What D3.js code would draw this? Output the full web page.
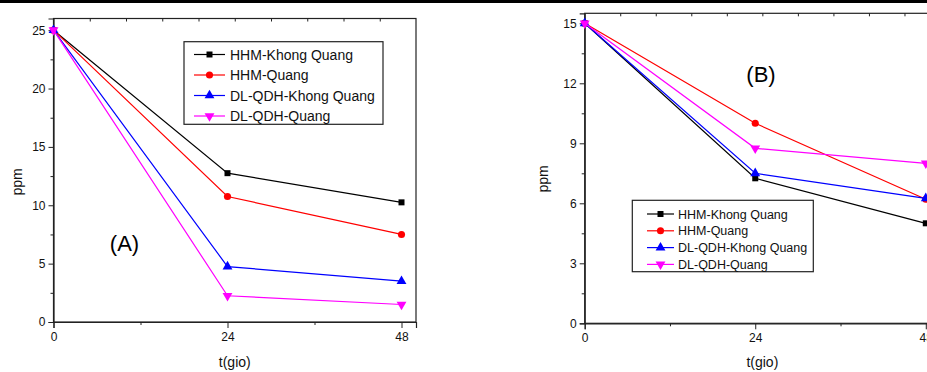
<!DOCTYPE html>
<html>
<head>
<meta charset="utf-8">
<script src="https://cdn.jsdelivr.net/npm/d3@7"></script>
<style>
  body { margin: 0; background: #fff; }
  svg { display: block; font-family: "Liberation Sans", Arial, sans-serif; }
</style>
</head>
<body>
<div id="chart"></div>
<script>
// data
const hours = [0, 24, 48];
const seriesNames = ['HHM-Khong Quang', 'HHM-Quang', 'DL-QDH-Khong Quang', 'DL-QDH-Quang'];
const seriesColors = ['#000000', '#ff0000', '#0000ff', '#ff00ff'];
const seriesSymbols = ['square', 'circle', 'triangle', 'triangleDown'];

const panelAValues = [
  [25, 12.75, 10.25],
  [25, 10.75, 7.5],
  [25, 4.75, 3.5],
  [25, 2.25, 1.5]
];
const panelBValues = [
  [15, 7.25, 5],
  [15, 10, 6.2],
  [15, 7.5, 6.25],
  [15, 8.75, 8]
];

const xTicks = [0, 24, 48];
const xMinorTicks = [12, 36];
const panelAYTicks = [0, 5, 10, 15, 20, 25];
const panelAYMinor = [2.5, 7.5, 12.5, 17.5, 22.5];
const panelBYTicks = [0, 3, 6, 9, 12, 15];
const panelBYMinor = [1.5, 4.5, 7.5, 10.5, 13.5];
const topTicks = [5, 10, 15, 20, 25, 30, 35, 40, 45];

const W = 927, H = 372;

const svg = d3.select('#chart').append('svg')
  .attr('width', W)
  .attr('height', H);

svg.append('rect').attr('width', W).attr('height', H).attr('fill', '#fff');
// black strip along the top
svg.append('rect').attr('width', W).attr('height', 3).attr('fill', '#000');

function symbolPath(kind, size) {
  if (kind === 'square') return d3.symbol(d3.symbolSquare, size)();
  if (kind === 'circle') return d3.symbol(d3.symbolCircle, size)();
  return d3.symbol(d3.symbolTriangle, size)();
}

function drawPanel(opt) {
  const x = d3.scaleLinear().domain([0, 50]).range([opt.left, opt.right]);
  const y = d3.scaleLinear().domain([0, opt.yMax]).range([opt.bottom, opt.top]);
  const g = svg.append('g');

  // frame
  g.append('rect')
    .attr('x', opt.left).attr('y', opt.top)
    .attr('width', opt.right - opt.left).attr('height', opt.bottom - opt.top)
    .attr('fill', 'none').attr('stroke', '#222').attr('stroke-width', 1.2);

  // inward ticks on the top edge
  g.append('g')
    .attr('transform', 'translate(0,' + opt.top + ')')
    .call(d3.axisBottom(x).tickValues(topTicks).tickSize(3).tickFormat(''))
    .call(a => a.select('.domain').remove());

  // x axis
  const xa = g.append('g')
    .attr('transform', 'translate(0,' + opt.bottom + ')')
    .call(d3.axisBottom(x).tickValues(xTicks).tickSize(6).tickPadding(4).tickFormat(d3.format('d')));
  xa.select('.domain').attr('stroke', '#222').attr('stroke-width', 1.2);
  g.append('g')
    .attr('transform', 'translate(0,' + opt.bottom + ')')
    .call(d3.axisBottom(x).tickValues(xMinorTicks).tickSize(3).tickFormat(''))
    .call(a => a.select('.domain').remove());

  // y axis
  const ya = g.append('g')
    .attr('transform', 'translate(' + opt.left + ',0)')
    .call(d3.axisLeft(y).tickValues(opt.yTicks).tickSize(5).tickPadding(3));
  ya.select('.domain').attr('stroke', '#222').attr('stroke-width', 1.2);
  g.append('g')
    .attr('transform', 'translate(' + opt.left + ',0)')
    .call(d3.axisLeft(y).tickValues(opt.yMinor).tickSize(3).tickFormat(''))
    .call(a => a.select('.domain').remove());

  g.selectAll('.tick text').attr('font-size', 12).attr('fill', '#111')
    .attr('font-family', '"Liberation Sans", Arial, sans-serif');
  g.selectAll('.tick line').attr('stroke', '#222');

  // axis titles
  g.append('text')
    .attr('x', (opt.left + opt.right) / 2).attr('y', 367)
    .attr('text-anchor', 'middle').attr('font-size', 14).attr('fill', '#111')
    .text('t(gio)');
  g.append('text')
    .attr('transform', 'translate(' + opt.ppmX + ',' + opt.ppmY + ') rotate(-90)')
    .attr('text-anchor', 'middle').attr('font-size', 14).attr('fill', '#111')
    .text('ppm');

  // panel letter
  g.append('text')
    .attr('x', opt.tagX).attr('y', opt.tagY)
    .attr('text-anchor', 'middle').attr('font-size', 22).attr('fill', '#000')
    .text(opt.tag);

  // series
  const line = d3.line().x((d, i) => x(hours[i])).y(d => y(d));
  const plot = g.append('g');
  opt.values.forEach((vals, s) => {
    plot.append('path')
      .attr('d', line(vals))
      .attr('fill', 'none')
      .attr('stroke', seriesColors[s])
      .attr('stroke-width', 1.2);
    plot.selectAll(null)
      .data(vals)
      .enter()
      .append('path')
      .attr('d', symbolPath(seriesSymbols[s], s === 1 ? 40 : (s === 0 ? 36 : 42)))
      .attr('transform', (d, i) => 'translate(' + x(hours[i]) + ',' + y(d) + ')' +
        (seriesSymbols[s] === 'triangleDown' ? ' rotate(180)' : ''))
      .attr('fill', seriesColors[s]);
  });

  // legend
  const lg = g.append('g');
  const L = opt.legend;
  lg.append('rect')
    .attr('x', L.x0).attr('y', L.y0)
    .attr('width', L.x1 - L.x0).attr('height', L.y1 - L.y0)
    .attr('fill', '#fff').attr('stroke', '#222').attr('stroke-width', 1.2);
  seriesNames.forEach((name, s) => {
    const yy = L.firstY + s * L.step;
    lg.append('line')
      .attr('x1', L.lineX0).attr('x2', L.lineX1)
      .attr('y1', yy).attr('y2', yy)
      .attr('stroke', seriesColors[s]).attr('stroke-width', 1.2);
    lg.append('path')
      .attr('d', symbolPath(seriesSymbols[s], s === 1 ? 40 : (s === 0 ? 36 : 42)))
      .attr('transform', 'translate(' + (L.lineX0 + L.lineX1) / 2 + ',' + yy + ')' +
        (seriesSymbols[s] === 'triangleDown' ? ' rotate(180)' : ''))
      .attr('fill', seriesColors[s]);
    lg.append('text')
      .attr('x', L.textX).attr('y', yy).attr('dy', '0.36em')
      .attr('font-size', L.fontSize).attr('fill', '#111')
      .text(name);
  });
}

drawPanel({
  values: panelAValues,
  left: 53.5, right: 416, top: 18.5, bottom: 322,
  yMax: 26, yTicks: panelAYTicks, yMinor: panelAYMinor,
  ppmX: 21.5, ppmY: 182,
  tag: '(A)', tagX: 124.5, tagY: 250.5,
  legend: { x0: 184, x1: 383, y0: 41.7, y1: 124.3, firstY: 54.5, step: 20.5,
            lineX0: 194, lineX1: 225, textX: 230, fontSize: 14 }
});

drawPanel({
  values: panelBValues,
  left: 584.7, right: 940, top: 13.3, bottom: 323.3,
  yMax: 15.5, yTicks: panelBYTicks, yMinor: panelBYMinor,
  ppmX: 548, ppmY: 179,
  tag: '(B)', tagX: 761, tagY: 82,
  legend: { x0: 632.3, x1: 813.3, y0: 200.3, y1: 271.7, firstY: 214, step: 16.8,
            lineX0: 647, lineX1: 674, textX: 678, fontSize: 12.5 }
});
</script>
</body>
</html>
